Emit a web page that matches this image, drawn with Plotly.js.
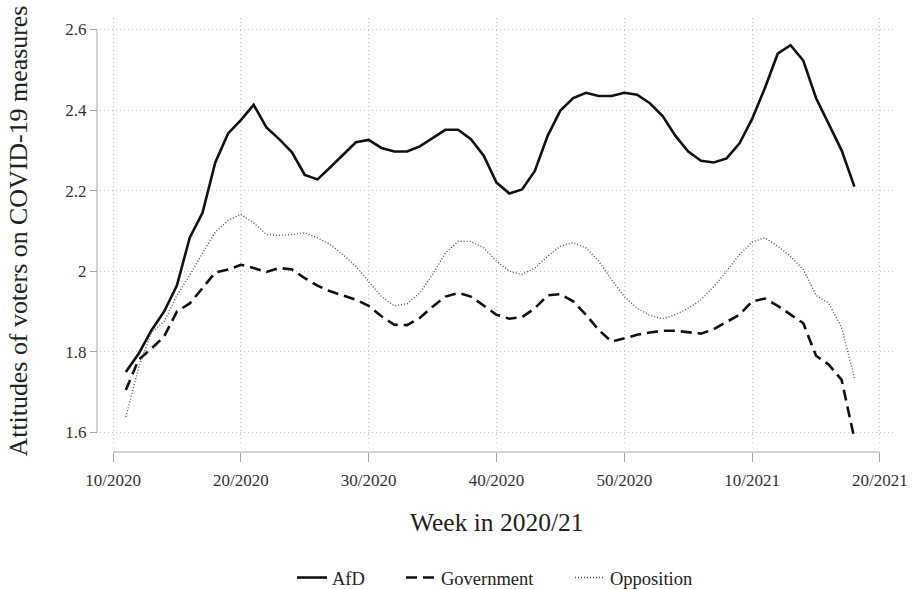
<!DOCTYPE html>
<html>
<head>
<meta charset="utf-8">
<script src="https://cdn.plot.ly/plotly-3.0.1.min.js"></script>
<style>html,body{margin:0;padding:0;background:#fff;}#chart{width:915px;height:589px;}</style>
</head>
<body>
<div id="chart"></div>
<script>
// Week index (10 = week 10/2020, 60 = week 10/2021)
const weeks = [11,12,13,14,15,16,17,18,19,20,21,22,23,24,25,26,27,28,29,30,31,32,33,34,35,36,37,38,39,40,41,42,43,44,45,46,47,48,49,50,51,52,53,54,55,56,57,58,59,60,61,62,63,64,65,66,67,68];

const afd = [1.750,1.795,1.853,1.900,1.965,2.083,2.145,2.270,2.342,2.375,2.413,2.357,2.328,2.295,2.239,2.228,2.258,2.289,2.320,2.326,2.306,2.297,2.297,2.310,2.331,2.351,2.351,2.328,2.287,2.220,2.193,2.203,2.249,2.336,2.399,2.430,2.443,2.435,2.435,2.443,2.438,2.417,2.385,2.336,2.297,2.274,2.270,2.280,2.317,2.378,2.455,2.540,2.561,2.523,2.430,2.366,2.300,2.210];

const government = [1.705,1.780,1.808,1.838,1.900,1.920,1.958,1.997,2.004,2.016,2.008,1.998,2.008,2.004,1.983,1.964,1.950,1.940,1.929,1.914,1.888,1.867,1.866,1.884,1.912,1.937,1.946,1.937,1.914,1.892,1.882,1.886,1.908,1.940,1.943,1.925,1.892,1.854,1.825,1.834,1.842,1.848,1.852,1.852,1.849,1.845,1.856,1.875,1.892,1.925,1.932,1.914,1.892,1.871,1.790,1.768,1.730,1.584];

const opposition = [1.638,1.760,1.848,1.875,1.940,1.990,2.045,2.097,2.126,2.141,2.120,2.091,2.089,2.091,2.095,2.083,2.066,2.041,2.012,1.975,1.937,1.914,1.919,1.946,1.992,2.045,2.074,2.074,2.058,2.025,2.000,1.992,2.008,2.037,2.062,2.071,2.058,2.025,1.979,1.937,1.908,1.890,1.882,1.892,1.908,1.929,1.962,2.000,2.041,2.072,2.083,2.062,2.037,2.004,1.940,1.920,1.860,1.735];

const xTickVals = [10,20,30,40,50,60,70];
const xTickText = ['10/2020','20/2020','30/2020','40/2020','50/2020','10/2021','20/2021'];
const yTickVals = [1.6,1.8,2.0,2.2,2.4,2.6];
const yTickText = ['1.6','1.8','2','2.2','2.4','2.6'];
const xTitle = 'Week in 2020/21';
const yTitle = 'Attitudes of voters on COVID-19 measures';

const FONT = 'Liberation Serif, Times New Roman, serif';
const AXIS_GREY = '#a6a6a6';
const GRID = '#c4c4c4';

const traces = [
  {x: weeks, y: afd, name: 'AfD', type: 'scatter', mode: 'lines',
   line: {color: '#111111', width: 2.6, dash: 'solid'}, legend: 'legend'},
  {x: weeks, y: government, name: 'Government', type: 'scatter', mode: 'lines',
   line: {color: '#111111', width: 2.6, dash: '11px,6px'}, legend: 'legend2'},
  {x: weeks, y: opposition, name: 'Opposition', type: 'scatter', mode: 'lines',
   line: {color: '#555555', width: 1.4, dash: '1px,2px'}, legend: 'legend3'}
];

const legendBase = {orientation: 'h', xref: 'container', yref: 'container',
  yanchor: 'middle', y: 11/589, xanchor: 'left',
  bgcolor: 'rgba(0,0,0,0)', font: {family: FONT, size: 18.5, color: '#222'}};

const layout = {
  width: 915, height: 589,
  margin: {l: 97, r: 22, t: 18, b: 137},
  paper_bgcolor: '#ffffff', plot_bgcolor: '#ffffff',
  font: {family: FONT, color: '#222'},
  showlegend: true,
  legend: Object.assign({}, legendBase, {x: 292/915}),
  legend2: Object.assign({}, legendBase, {x: 401/915}),
  legend3: Object.assign({}, legendBase, {x: 570/915}),
  xaxis: {
    domain: [3/796, 1], anchor: 'free', position: 0,
    range: [8.98, 71.02], tickmode: 'array', tickvals: xTickVals, ticktext: xTickText,
    showgrid: true, gridcolor: GRID, gridwidth: 1, griddash: '1px,3px',
    zeroline: false, showline: false,
    ticks: 'outside', ticklen: 9, tickwidth: 1, tickcolor: AXIS_GREY, ticklabelstandoff: 4,
    tickfont: {family: FONT, size: 17, color: '#333'},
    automargin: false
  },
  yaxis: {
    domain: [7/434, 1], anchor: 'free', position: 0,
    range: [1.5685, 2.6286], tickmode: 'array', tickvals: yTickVals, ticktext: yTickText,
    showgrid: true, gridcolor: GRID, gridwidth: 1, griddash: '1px,3px',
    zeroline: false, showline: false,
    ticks: 'outside', ticklen: 7, tickwidth: 1, tickcolor: AXIS_GREY,
    tickfont: {family: FONT, size: 17, color: '#333'},
    automargin: false
  },
  annotations: [
    {text: xTitle, xref: 'paper', yref: 'paper', x: (496.5-97)/796, y: (452-522)/434,
     xanchor: 'center', yanchor: 'middle', showarrow: false,
     font: {family: FONT, size: 25.5, color: '#222'}},
    {text: yTitle, xref: 'paper', yref: 'paper', x: (18-97)/796, y: 0.5 + 3.5/434,
     xanchor: 'center', yanchor: 'middle', textangle: -90, showarrow: false,
     font: {family: FONT, size: 25.9, color: '#222'}}
  ],
  shapes: [
    {type: 'line', xref: 'paper', yref: 'y', x0: 0, x1: 0, y0: 1.6, y1: 2.6,
     line: {color: AXIS_GREY, width: 1}, layer: 'above'},
    {type: 'line', xref: 'x', yref: 'paper', x0: 10, x1: 70, y0: 0, y1: 0,
     line: {color: AXIS_GREY, width: 1}, layer: 'above'}
  ]
};

Plotly.newPlot('chart', traces, layout, {displayModeBar: false, staticPlot: true});
</script>
</body>
</html>
